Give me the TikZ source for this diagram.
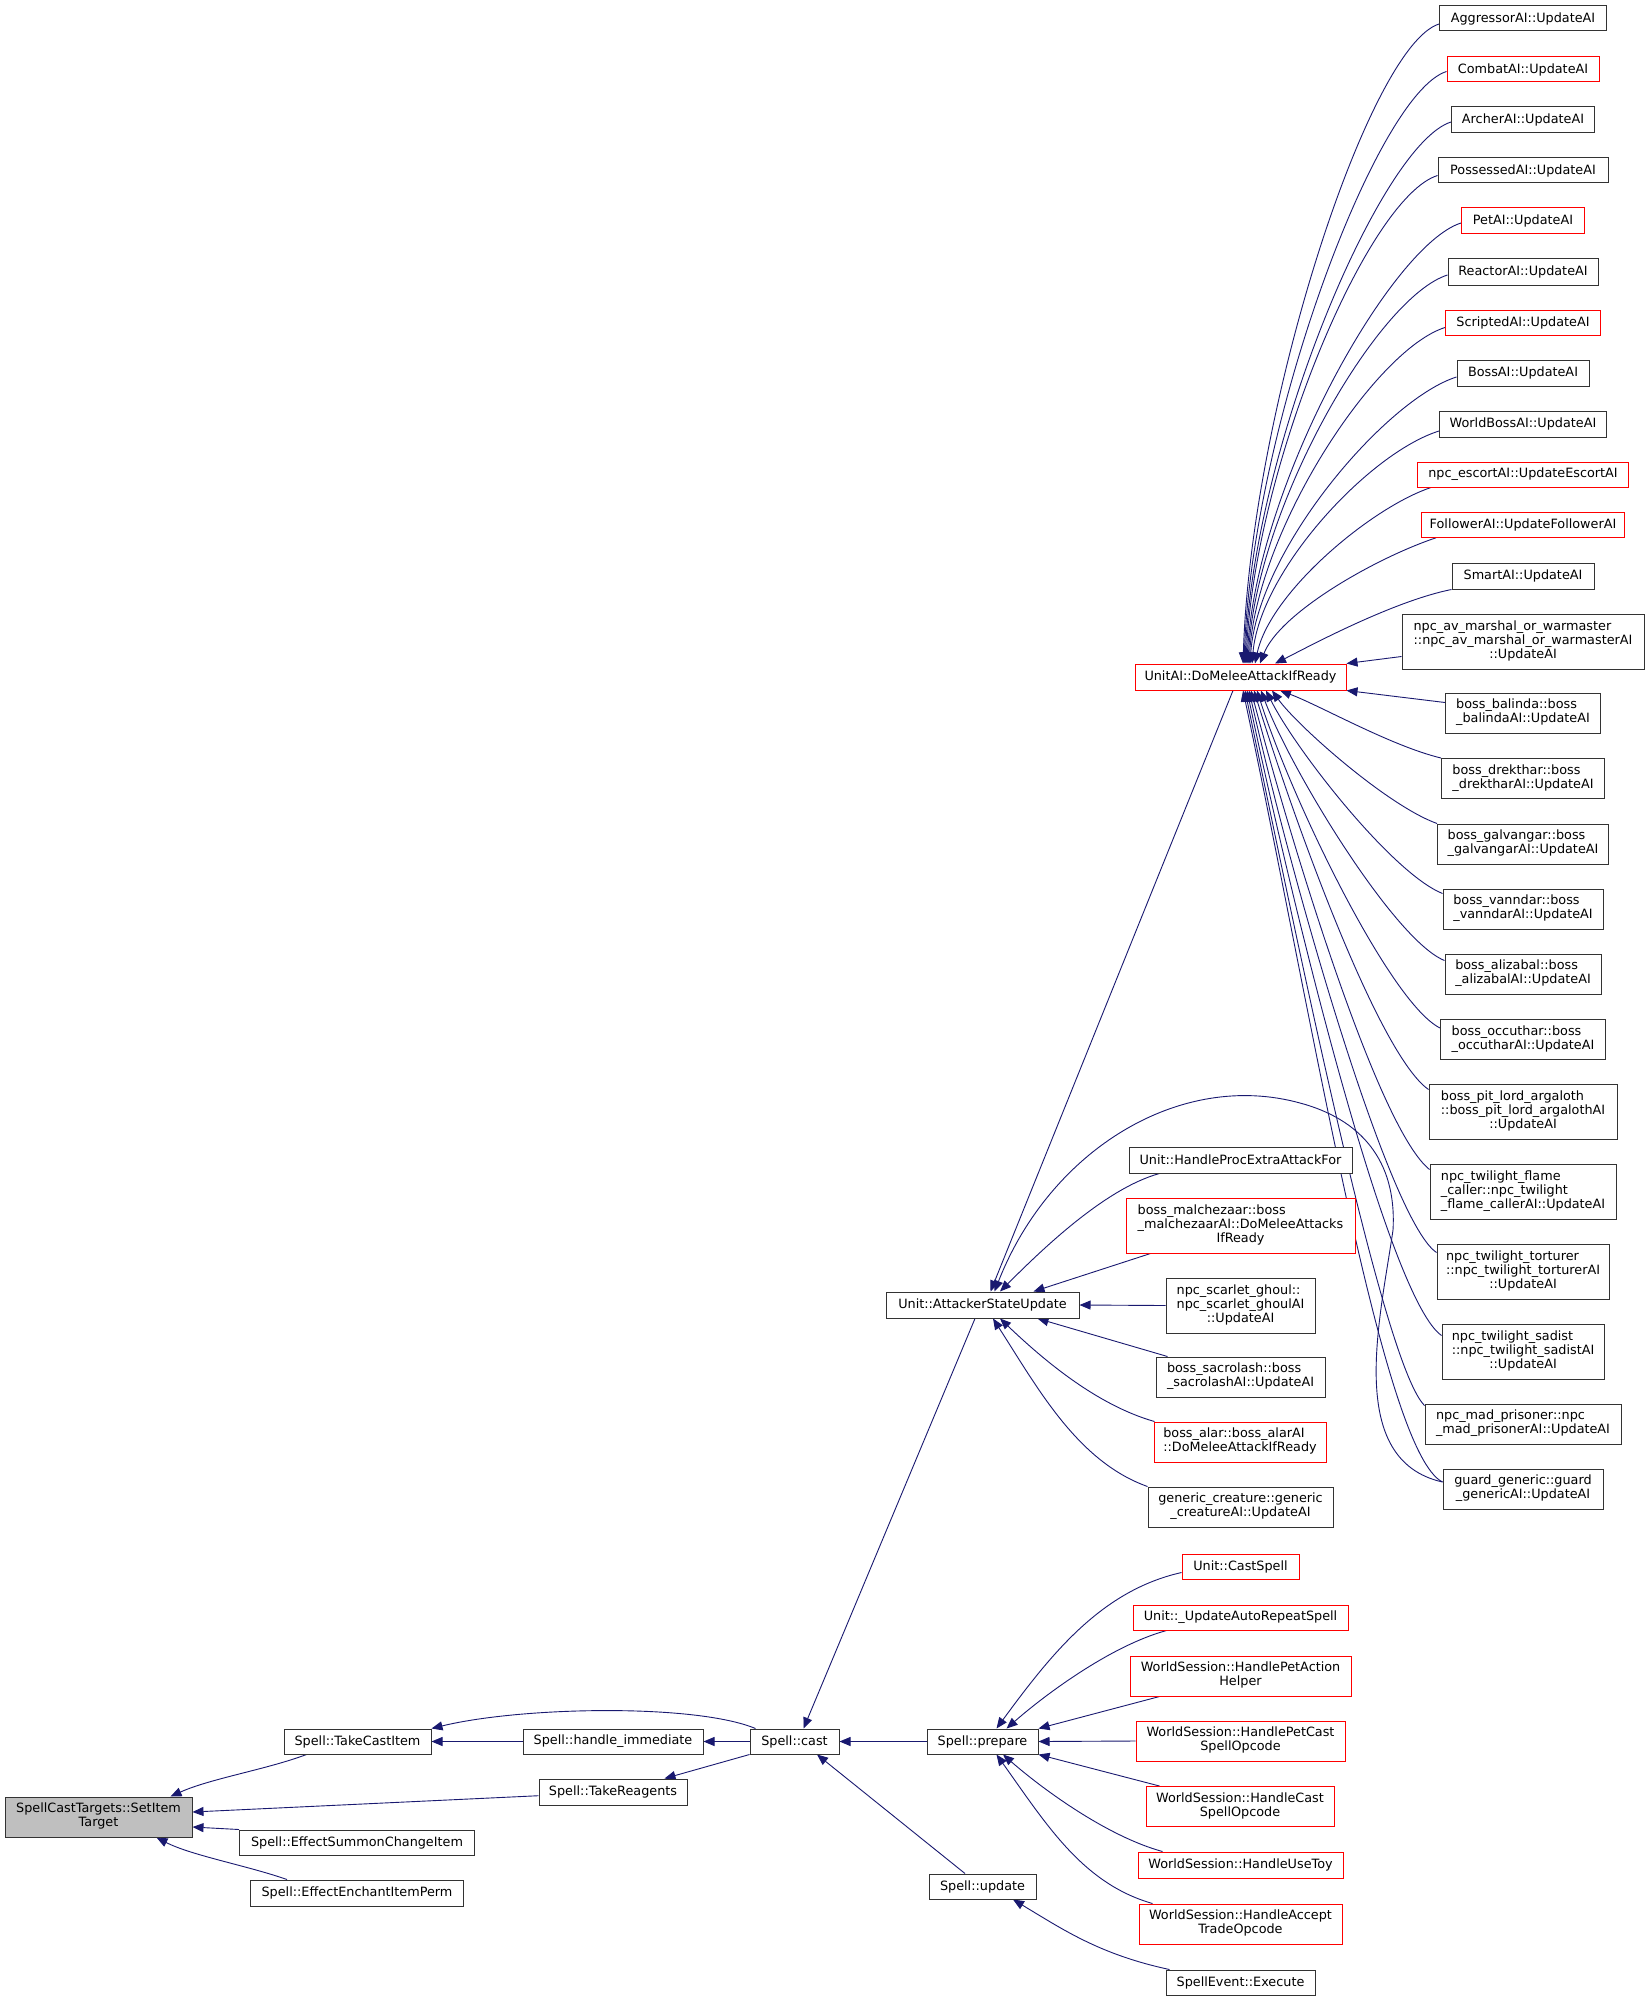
\documentclass[tikz,border=0pt]{standalone}
\usepackage{fontspec}
\setmainfont{DejaVu Sans}
\usetikzlibrary{arrows.meta}
\definecolor{navy}{RGB}{25,25,112}
\definecolor{nodegray}{RGB}{191,191,191}
\newcommand{\dxlab}[2]{\begin{tabular}{@{}l@{}}#1\\\multicolumn{1}{@{}c@{}}{#2}\end{tabular}}
\newcommand{\nodefont}{\fontsize{12.8}{14.2}\selectfont}
\pgfdeclarelayer{bg}
\pgfsetlayers{bg,main}
\begin{document}
\begin{tikzpicture}[x=1pt,y=-1pt,
  box/.style={draw=black!80, line width=1pt, fill=white, inner sep=0pt, align=center, font=\nodefont},
  rbox/.style={box, draw=red},
  gbox/.style={box, fill=nodegray},
  sz/.style 2 args={minimum width=#1pt, minimum height=#2pt},
  cl/.style={draw=navy, line width=0.9pt, -{Triangle[length=11pt,width=9pt]}}]
\useasboundingbox (0,0) rectangle (1649,2001);
% left group
\node[gbox,sz={187}{40}] (n0) at (98.5,1817) {\dxlab{SpellCastTargets::SetItem}{Target}};
\node[box,sz={147}{25}] (takecast) at (357.5,1741.5) {Spell::TakeCastItem};
\node[box,sz={180}{25}] (handleimm) at (613,1741.5) {Spell::handle\_immediate};
\node[box,sz={89}{25}] (cast) at (794.5,1741.5) {Spell::cast};
\node[box,sz={148}{26}] (takereag) at (613,1792) {Spell::TakeReagents};
\node[box,sz={235}{25}] (summon) at (357,1842.5) {Spell::EffectSummonChangeItem};
\node[box,sz={213}{26}] (enchant) at (357,1893) {Spell::EffectEnchantItemPerm};
% prepare group
\node[box,sz={111}{25}] (prepare) at (982.5,1741.5) {Spell::prepare};
\node[box,sz={107}{25}] (update) at (982.5,1886.5) {Spell::update};
\node[rbox,sz={117}{25}] (castspell) at (1240.5,1566.5) {Unit::CastSpell};
\node[rbox,sz={215}{25}] (autorep) at (1240.5,1617.5) {Unit::\_UpdateAutoRepeatSpell};
\node[rbox,sz={221}{40}] (petaction) at (1240.5,1676) {\dxlab{WorldSession::HandlePetAction}{Helper}};
\node[rbox,sz={209}{40}] (petcast) at (1240.5,1741) {\dxlab{WorldSession::HandlePetCast}{SpellOpcode}};
\node[rbox,sz={188}{40}] (castop) at (1240,1806.5) {\dxlab{WorldSession::HandleCast}{SpellOpcode}};
\node[rbox,sz={205}{26}] (usetoy) at (1240.5,1865) {WorldSession::HandleUseToy};
\node[rbox,sz={203}{40}] (accept) at (1240.5,1924) {\dxlab{WorldSession::HandleAccept}{TradeOpcode}};
\node[box,sz={149}{25}] (execute) at (1240.5,1982.5) {SpellEvent::Execute};
% attacker group
\node[box,sz={193}{26}] (asu) at (982.5,1305) {Unit::AttackerStateUpdate};
\node[box,sz={223}{26}] (procextra) at (1240.5,1160) {Unit::HandleProcExtraAttackFor};
\node[rbox,sz={229}{55}] (malch) at (1240.5,1225.5) {\dxlab{boss\_malchezaar::boss\\\_malchezaarAI::DoMeleeAttacks}{IfReady}};
\node[box,sz={149}{55}] (scarlet) at (1240.5,1305.5) {\dxlab{npc\_scarlet\_ghoul::\\npc\_scarlet\_ghoulAI}{::UpdateAI}};
\node[box,sz={169}{40}] (sacro) at (1240.5,1377) {\dxlab{boss\_sacrolash::boss}{\_sacrolashAI::UpdateAI}};
\node[rbox,sz={172}{40}] (alar) at (1240,1442) {\dxlab{boss\_alar::boss\_alarAI}{::DoMeleeAttackIfReady}};
\node[box,sz={185}{40}] (generic) at (1240.5,1507) {\dxlab{generic\_creature::generic}{\_creatureAI::UpdateAI}};
% unit ai
\node[rbox,sz={211}{26}] (ua) at (1240.5,677) {UnitAI::DoMeleeAttackIfReady};
% right column
\node[box,sz={167}{25}] (aggr) at (1523,18.5) {AggressorAI::UpdateAI};
\node[rbox,sz={152}{25}] (combat) at (1523,69.5) {CombatAI::UpdateAI};
\node[box,sz={143}{26}] (archer) at (1523,120) {ArcherAI::UpdateAI};
\node[box,sz={170}{25}] (possessed) at (1523,170.5) {PossessedAI::UpdateAI};
\node[rbox,sz={123}{26}] (pet) at (1523,221) {PetAI::UpdateAI};
\node[box,sz={150}{26}] (reactor) at (1523,272) {ReactorAI::UpdateAI};
\node[rbox,sz={155}{25}] (scripted) at (1523,322.5) {ScriptedAI::UpdateAI};
\node[box,sz={132}{26}] (boss) at (1523,373) {BossAI::UpdateAI};
\node[box,sz={167}{26}] (worldboss) at (1523,424) {WorldBossAI::UpdateAI};
\node[rbox,sz={211}{25}] (escort) at (1523,474.5) {npc\_escortAI::UpdateEscortAI};
\node[rbox,sz={203}{25}] (follower) at (1523,524.8) {FollowerAI::UpdateFollowerAI};
\node[box,sz={142}{26}] (smart) at (1523,576) {SmartAI::UpdateAI};
\node[box,sz={242}{55}] (avm) at (1523,641.5) {\dxlab{npc\_av\_marshal\_or\_warmaster\\::npc\_av\_marshal\_or\_warmasterAI}{::UpdateAI}};
\node[box,sz={155}{40}] (balinda) at (1523,713) {\dxlab{boss\_balinda::boss}{\_balindaAI::UpdateAI}};
\node[box,sz={163}{40}] (drekthar) at (1523,778.5) {\dxlab{boss\_drekthar::boss}{\_drektharAI::UpdateAI}};
\node[box,sz={171}{40}] (galvangar) at (1523,844) {\dxlab{boss\_galvangar::boss}{\_galvangarAI::UpdateAI}};
\node[box,sz={160}{40}] (vanndar) at (1523,909) {\dxlab{boss\_vanndar::boss}{\_vanndarAI::UpdateAI}};
\node[box,sz={156}{40}] (alizabal) at (1523,974) {\dxlab{boss\_alizabal::boss}{\_alizabalAI::UpdateAI}};
\node[box,sz={165}{40}] (occuthar) at (1523,1039.5) {\dxlab{boss\_occuthar::boss}{\_occutharAI::UpdateAI}};
\node[box,sz={188}{55}] (pitlord) at (1523,1111.5) {\dxlab{boss\_pit\_lord\_argaloth\\::boss\_pit\_lord\_argalothAI}{::UpdateAI}};
\node[box,sz={186}{55}] (flame) at (1523,1191.5) {\dxlab{npc\_twilight\_flame\\\_caller::npc\_twilight}{\_flame\_callerAI::UpdateAI}};
\node[box,sz={172}{55}] (torturer) at (1523,1271.5) {\dxlab{npc\_twilight\_torturer\\::npc\_twilight\_torturerAI}{::UpdateAI}};
\node[box,sz={162}{55}] (sadist) at (1523,1351.5) {\dxlab{npc\_twilight\_sadist\\::npc\_twilight\_sadistAI}{::UpdateAI}};
\node[box,sz={196}{40}] (madp) at (1523,1424) {\dxlab{npc\_mad\_prisoner::npc}{\_mad\_prisonerAI::UpdateAI}};
\node[box,sz={160}{40}] (guard) at (1523,1489) {\dxlab{guard\_generic::guard}{\_genericAI::UpdateAI}};

\begin{pgfonlayer}{bg}
\fill[white] (0,0) rectangle (1649,2001);
% left group
\draw[cl] ([xshift=23pt]takecast.south west) .. controls +(-40,15) and +(40,-18) .. ([xshift=-22pt]n0.north east);
\draw[cl] ([yshift=-3.7pt]takereag.west) -- ([yshift=5pt]n0.east);
\draw[cl] (summon.north west) -- ([yshift=-10pt]n0.east);
\draw[cl] ([xshift=37pt]enchant.north west) .. controls +(-40,-14) and +(35,18) .. ([xshift=-36pt]n0.south east);
\draw[cl] (handleimm.west) -- (takecast.east);
\draw[cl] ([xshift=6pt]cast.north west) .. controls +(-60,-25) and +(90,-22) .. (takecast.north east);
\draw[cl] (cast.west) -- (handleimm.east);
\draw[cl] (cast.south west) -- ([xshift=-23pt]takereag.north east);
\draw[cl] (prepare.west) -- (cast.east);
\draw[cl] ([xshift=-17.5pt]update.north) -- ([xshift=22.5pt]cast.south);
\draw[cl] ([xshift=-7.5pt]asu.south) -- ([xshift=9pt]cast.north);
% prepare group
\draw[cl] ([yshift=-6pt]castspell.west) .. controls +(-80,18) and +(55,-75) .. ([xshift=14pt]prepare.north);
\draw[cl] ([xshift=34pt]autorep.south west) .. controls +(-55,15) and +(40,-35) .. ([xshift=24pt]prepare.north);
\draw[cl] ([xshift=30pt]petaction.south west) -- (prepare.north east);
\draw[cl] (petcast.west) -- (prepare.east);
\draw[cl] ([xshift=14pt]castop.north west) -- (prepare.south east);
\draw[cl] ([xshift=25pt]usetoy.north west) .. controls +(-55,-15) and +(40,35) .. ([xshift=20.5pt]prepare.south);
\draw[cl] ([xshift=14pt]accept.north west) .. controls +(-70,-20) and +(50,70) .. ([xshift=14pt]prepare.south);
\draw[cl] ([xshift=4pt]execute.north west) .. controls +(-70,-15) and +(50,30) .. ([xshift=30.5pt]update.south);
% attacker group
\draw[cl] ([xshift=-7.5pt]ua.south) -- ([xshift=8pt]asu.north);
\draw[cl] ([yshift=7pt]guard.west) .. controls (1345,1460) and (1380,1320) .. (1393,1230) .. controls (1397,1160) and (1360,1119) .. (1300,1103) .. controls (1180,1070) and (1050,1150) .. ([xshift=12pt]asu.north);
\draw[cl] ([xshift=31pt]procextra.south west) .. controls +(-55,15) and +(40,-40) .. ([xshift=17.5pt]asu.north);
\draw[cl] ([xshift=25pt]malch.south west) -- ([xshift=-46pt]asu.north east);
\draw[cl] (scarlet.west) -- (asu.east);
\draw[cl] ([xshift=12pt]sacro.north west) -- ([xshift=-42pt]asu.south east);
\draw[cl] ([xshift=1pt]alar.north west) .. controls +(-60,-17) and +(40,38) .. ([xshift=17.5pt]asu.south);
\draw[cl] (generic.north west) .. controls +(-70,-25) and +(45,70) .. ([xshift=10.5pt]asu.south);
% unit ai, callers above
\draw[cl] ([yshift=-5.5pt]aggr.west) .. controls +(-70,22) and +(8,-256) .. ([xshift=2.5pt]ua.north);
\draw[cl] ([yshift=-2pt]combat.west) .. controls +(-70,22) and +(8,-237) .. ([xshift=3.5pt]ua.north);
\draw[cl] ([yshift=-2pt]archer.west) .. controls +(-70,22) and +(8,-217) .. ([xshift=4.5pt]ua.north);
\draw[cl] ([yshift=-5pt]possessed.west) .. controls +(-70,22) and +(8,-195) .. ([xshift=5.5pt]ua.north);
\draw[cl] ([yshift=-2pt]pet.west) .. controls +(-70,22) and +(8,-176) .. ([xshift=6.5pt]ua.north);
\draw[cl] ([yshift=-3pt]reactor.west) .. controls +(-70,22) and +(8,-156) .. ([xshift=7.5pt]ua.north);
\draw[cl] ([yshift=-5pt]scripted.west) .. controls +(-70,22) and +(8,-134) .. ([xshift=8.5pt]ua.north);
\draw[cl] ([yshift=-4pt]boss.west) .. controls +(-70,22) and +(8,-115) .. ([xshift=9.5pt]ua.north);
\draw[cl] ([yshift=-7pt]worldboss.west) .. controls +(-70,22) and +(8,-93) .. ([xshift=11.5pt]ua.north);
\draw[cl] ([xshift=14pt]escort.south west) .. controls +(-60,20) and +(15,-71) .. ([xshift=14.5pt]ua.north);
\draw[cl] ([xshift=15pt]follower.south west) .. controls +(-60,20) and +(20,-51) .. ([xshift=19.5pt]ua.north);
\draw[cl] (smart.south west) .. controls +(-60,12) and +(30,-15) .. ([xshift=34.5pt]ua.north);
\draw[cl] ([yshift=-15pt]avm.west) -- (ua.north east);
% unit ai, callers below
\draw[cl] ([yshift=10.5pt]balinda.west) -- (ua.south east);
\draw[cl] (drekthar.north west) .. controls +(-50,-12) and +(40,15) .. ([xshift=39.5pt]ua.south);
\draw[cl] (galvangar.north west) .. controls +(-50,-18) and +(25,35) .. ([xshift=31.5pt]ua.south);
\draw[cl] ([yshift=-5pt]vanndar.north west) .. controls +(-50,-20) and +(30,60) .. ([xshift=25.5pt]ua.south);
\draw[cl] ([yshift=-7pt]alizabal.north west) .. controls +(-50,-20) and +(30,80) .. ([xshift=20.5pt]ua.south);
\draw[cl] ([yshift=11.5pt]occuthar.west) .. controls +(-50,-25) and +(35,110) .. ([xshift=16.5pt]ua.south);
\draw[cl] ([yshift=-6pt]pitlord.north west) .. controls +(-50,-35) and +(40,130) .. ([xshift=13.5pt]ua.south);
\draw[cl] ([yshift=-6pt]flame.north west) .. controls +(-50,-40) and +(45,170) .. ([xshift=10.5pt]ua.south);
\draw[cl] ([yshift=-9pt]torturer.north west) .. controls +(-45,-30) and +(50,220) .. ([xshift=8.5pt]ua.south);
\draw[cl] ([yshift=-12pt]sadist.north west) .. controls +(-50,-35) and +(55,260) .. ([xshift=6.5pt]ua.south);
\draw[cl] ([yshift=-2pt]madp.north west) .. controls +(-40,-40) and +(60,290) .. ([xshift=4.5pt]ua.south);
\draw[cl] ([yshift=7pt]guard.west) .. controls +(-60,-30) and +(70,330) .. ([xshift=2.5pt]ua.south);
\end{pgfonlayer}
\end{tikzpicture}
\end{document}
